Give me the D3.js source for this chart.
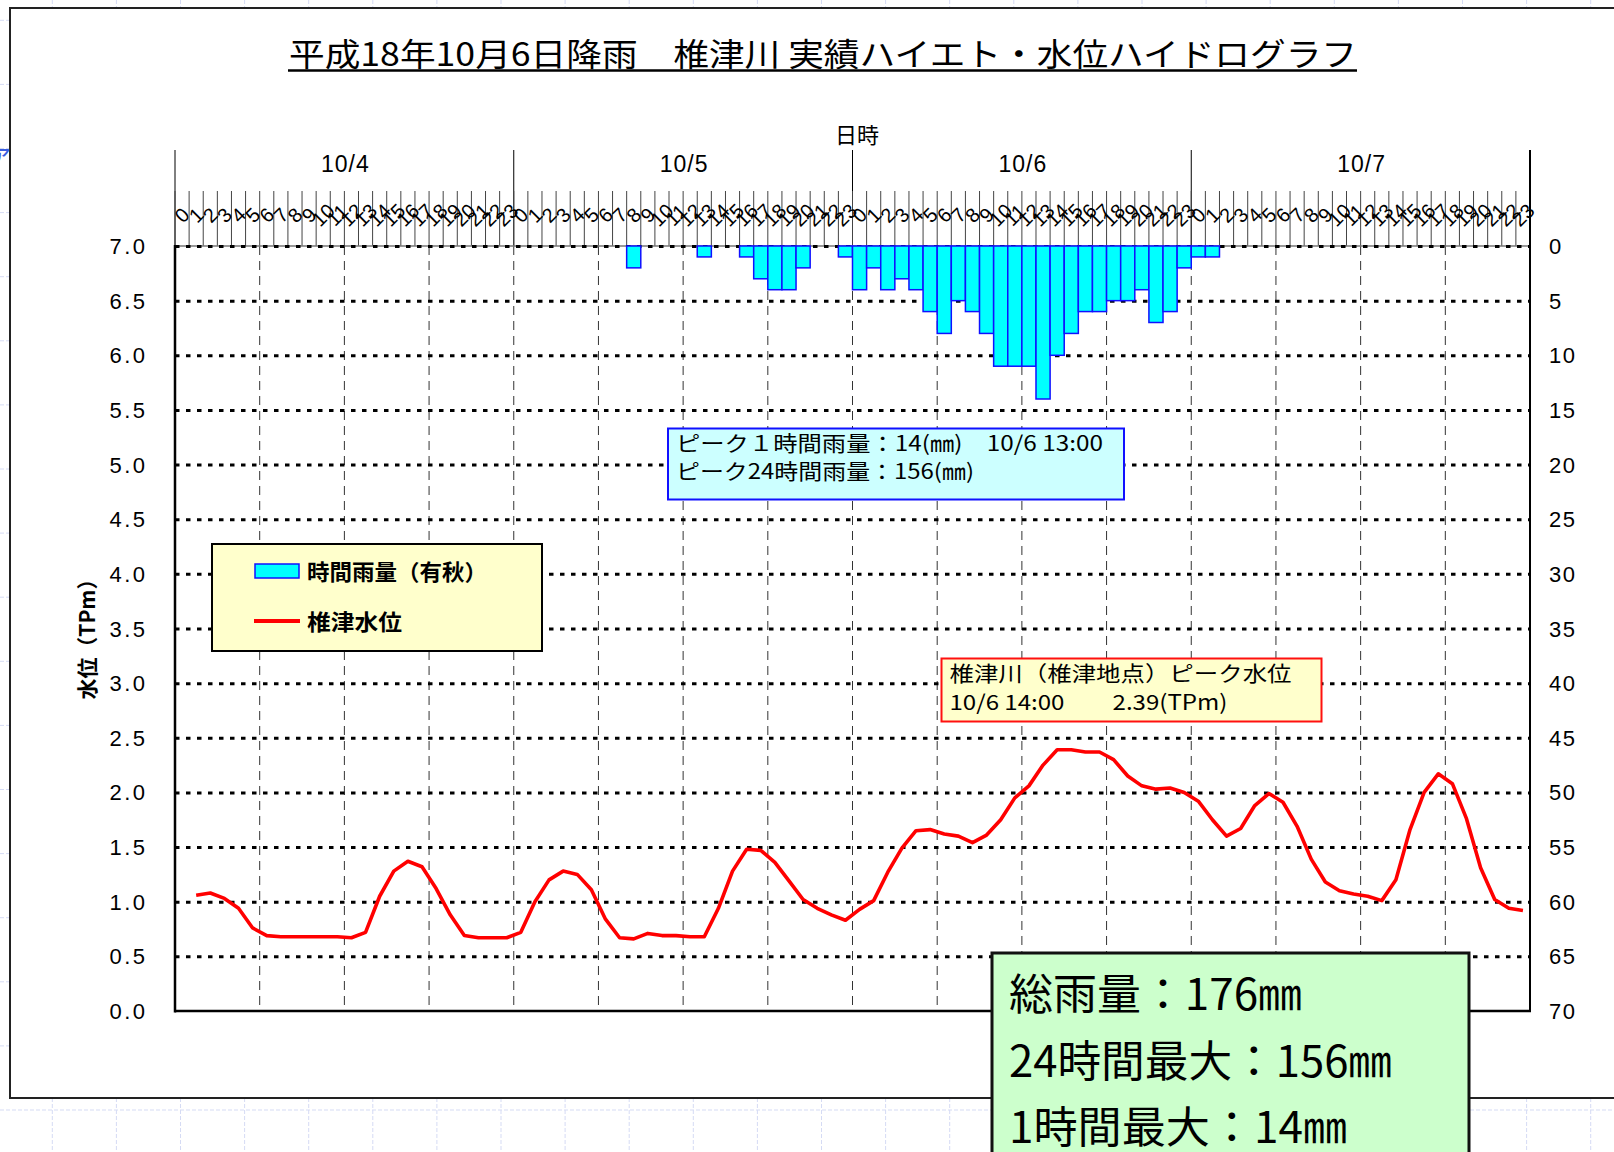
<!DOCTYPE html>
<html>
<head>
<meta charset="utf-8">
<script src="https://cdn.jsdelivr.net/npm/d3@7"></script>
<style>
  body { margin: 0; background: #fff; }
  svg { display: block; }
</style>
</head>
<body>
<svg id="chart" width="1614" height="1152"></svg>
<script>
// ---- data ----
const titleText = "平成18年10月6日降雨　椎津川 実績ハイエト・水位ハイドログラフ";
const days = ["10/4", "10/5", "10/6", "10/7"];
const hourLabels = ["0","1","2","3","4","5","6","7","8","9","10","11",
  "12","13","14","15","16","17","18","19","20","21","22","23"];

// hourly rainfall (mm), 有秋
const rain04 = [0,0,0,0,0,0,0,0,0,0,0,0,0,0,0,0,0,0,0,0,0,0,0,0];
const rain05 = [0,0,0,0,0,0,0,0,2,0,0,0,0,1,0,0,1,3,4,4,2,0,0,1];
const rain06 = [4,2,4,3,4,6,8,5,6,8,11,11,11,14,10,8,6,6,5,5,4,7,6,2];
const rain07 = [1,1,0,0,0,0,0,0,0,0,0,0,0,0,0,0,0,0,0,0,0,0,0,0];

// water level (TPm), 椎津
const level04 = [null,1.06,1.08,1.03,0.94,0.76,0.69,0.68,0.68,0.68,0.68,0.68,
  0.67,0.72,1.05,1.28,1.37,1.32,1.12,0.88,0.69,0.67,0.67,0.67];
const level05 = [0.72,1.00,1.20,1.28,1.25,1.11,0.84,0.67,0.66,0.71,0.69,0.69,
  0.68,0.68,0.94,1.28,1.48,1.47,1.36,1.19,1.02,0.94,0.88,0.83];
const level06 = [0.93,1.01,1.27,1.49,1.65,1.66,1.62,1.60,1.54,1.61,1.75,1.95,
  2.06,2.25,2.39,2.39,2.37,2.37,2.30,2.15,2.06,2.03,2.04,2.00];
const level07 = [1.92,1.75,1.60,1.67,1.88,1.99,1.91,1.69,1.39,1.18,1.10,1.07,
  1.05,1.01,1.20,1.66,2.00,2.17,2.08,1.76,1.31,1.02,0.94,0.92];

const levelTicks = [0,0.5,1,1.5,2,2.5,3,3.5,4,4.5,5,5.5,6,6.5,7];
const rainTicks = [0,5,10,15,20,25,30,35,40,45,50,55,60,65,70];

const legendLabels = ["時間雨量（有秋）", "椎津水位"];
const peakRainLines = ["ピーク１時間雨量：14(㎜)　10/6 13:00", "ピーク24時間雨量：156(㎜)"];
const peakLevelLines = ["椎津川（椎津地点）ピーク水位", "10/6 14:00　　2.39(TPm)"];
const summaryLines = ["総雨量：176㎜", "24時間最大：156㎜", "1時間最大：14㎜"];

// ---- setup ----
const svg = d3.select("#chart");
const jp = "'Noto Sans CJK JP', 'Noto Sans', sans-serif";
const num = "'Liberation Sans', Arial, sans-serif";

const plot = { left: 175, right: 1530, top: 246, bottom: 1011 };

const rain = rain04.concat(rain05, rain06, rain07);
const level = level04.concat(level05, level06, level07);
const slots = days.flatMap((d, di) => hourLabels.map((h, hi) => ({ day: d, hour: h, i: di * 24 + hi })));

const x = d3.scaleBand()
  .domain(slots.map(s => s.i))
  .range([plot.left, plot.right])
  .padding(0);
const bw = x.bandwidth();
const xDay = d3.scaleBand().domain(days).range([plot.left, plot.right]);
const yL = d3.scaleLinear().domain([0, 7]).range([plot.bottom, plot.top]);
const yR = d3.scaleLinear().domain([0, 70]).range([plot.top, plot.bottom]);

// faint sheet grid behind the chart object
let bg = svg.append("g")
  .attr("stroke", "#d5dbf4")
  .attr("stroke-width", 1)
  .attr("stroke-dasharray", "4,2");
d3.range(52.3, 1614, 64.1).forEach(gx => {
  bg.append("line").attr("x1", gx).attr("x2", gx).attr("y1", 0).attr("y2", 1152);
});
d3.range(1110, -10, -64.1).forEach(gy => {
  bg.append("line").attr("x1", 0).attr("x2", 1614).attr("y1", gy).attr("y2", gy);
});

// chart frame (right edge runs off the page)
svg.append("rect")
  .attr("x", 10).attr("y", 8)
  .attr("width", 1700).attr("height", 1090)
  .attr("fill", "#fff")
  .attr("stroke", "#222")
  .attr("stroke-width", 2);

// cut-off glyph at the left page edge
svg.append("text")
  .attr("x", -13).attr("y", 163)
  .attr("font-family", jp).attr("font-size", 26)
  .attr("fill", "#3a5ee0")
  .text("ァ");

// title
svg.append("text")
  .attr("x", 823).attr("y", 52)
  .attr("text-anchor", "middle")
  .attr("dominant-baseline", "central")
  .attr("font-family", jp).attr("font-size", 32)
  .attr("textLength", 1068).attr("lengthAdjust", "spacingAndGlyphs")
  .text(titleText);
svg.append("line")
  .attr("x1", 288).attr("x2", 1357)
  .attr("y1", 70.5).attr("y2", 70.5)
  .attr("stroke", "#000").attr("stroke-width", 2.5);

// ---- top category axis ----
svg.append("text")
  .attr("x", 857).attr("y", 133)
  .attr("text-anchor", "middle").attr("dominant-baseline", "central")
  .attr("font-family", jp).attr("font-size", 22)
  .text("日時");

let topAxis = svg.append("g");
topAxis.selectAll("line.day")
  .data(days.concat([null]))
  .enter().append("line")
  .attr("class", "day")
  .attr("x1", (d, k) => plot.left + k * xDay.bandwidth())
  .attr("x2", (d, k) => plot.left + k * xDay.bandwidth())
  .attr("y1", 150).attr("y2", plot.top)
  .attr("stroke", "#000").attr("stroke-width", 1);

topAxis.selectAll("text.day")
  .data(days)
  .enter().append("text")
  .attr("class", "day")
  .attr("x", d => xDay(d) + xDay.bandwidth() / 2 + 1)
  .attr("y", 164)
  .attr("text-anchor", "middle").attr("dominant-baseline", "central")
  .attr("font-family", num).attr("font-size", 23)
  .attr("letter-spacing", 1)
  .text(d => d);

topAxis.selectAll("line.hour")
  .data(slots)
  .enter().append("line")
  .attr("class", "hour")
  .attr("x1", d => x(d.i)).attr("x2", d => x(d.i))
  .attr("y1", 191).attr("y2", plot.top)
  .attr("stroke", "#444").attr("stroke-width", 1);

topAxis.selectAll("text.hour")
  .data(slots)
  .enter().append("text")
  .attr("class", "hour")
  .attr("transform", d => `translate(${x(d.i) + bw / 2},215) rotate(-45)`)
  .attr("text-anchor", "middle").attr("dominant-baseline", "central")
  .attr("font-family", num).attr("font-size", 20)
  .text(d => d.hour);

// ---- grid ----
let grid = svg.append("g");
grid.selectAll("line.v")
  .data(slots.filter(s => s.i > 0 && s.i % 6 === 0))
  .enter().append("line")
  .attr("class", "v")
  .attr("x1", d => x(d.i)).attr("x2", d => x(d.i))
  .attr("y1", plot.top).attr("y2", plot.bottom)
  .attr("stroke", "#333").attr("stroke-width", 1)
  .attr("stroke-dasharray", "9,6");

// top axis line under the dotted 7.0 gridline
svg.append("line")
  .attr("x1", plot.left).attr("x2", plot.right)
  .attr("y1", plot.top).attr("y2", plot.top)
  .attr("stroke", "#777").attr("stroke-width", 1.5);

svg.append("g")
  .attr("transform", `translate(${plot.left},0)`)
  .call(d3.axisLeft(yL).tickValues(levelTicks.filter(v => v > 0)).tickSize(-(plot.right - plot.left)).tickFormat(""))
  .call(g => g.select(".domain").remove())
  .call(g => g.selectAll(".tick line")
    .attr("stroke", "#000").attr("stroke-width", 3)
    .attr("stroke-dasharray", "4.5,6.5"));

// ---- rainfall bars ----
svg.append("g")
  .selectAll("rect")
  .data(slots.filter(s => rain[s.i] > 0))
  .enter().append("rect")
  .attr("x", d => x(d.i))
  .attr("y", yR(0))
  .attr("width", bw)
  .attr("height", d => yR(rain[d.i]) - yR(0))
  .attr("fill", "#00ffff")
  .attr("stroke", "#1010ff")
  .attr("stroke-width", 1.5);

// ---- water level line ----
const line = d3.line()
  .defined(d => level[d.i] != null)
  .x(d => x(d.i) + bw / 2)
  .y(d => yL(level[d.i]));
svg.append("path")
  .datum(slots)
  .attr("d", line)
  .attr("fill", "none")
  .attr("stroke", "#ff0000")
  .attr("stroke-width", 3.6)
  .attr("stroke-linejoin", "round");

// ---- axes ----
svg.append("line")
  .attr("x1", plot.left).attr("x2", plot.left)
  .attr("y1", plot.top - 1).attr("y2", plot.bottom + 1.5)
  .attr("stroke", "#000").attr("stroke-width", 2.5);
svg.append("line")
  .attr("x1", plot.left).attr("x2", plot.right + 1)
  .attr("y1", plot.bottom).attr("y2", plot.bottom)
  .attr("stroke", "#000").attr("stroke-width", 2.5);
svg.append("line")
  .attr("x1", plot.right).attr("x2", plot.right)
  .attr("y1", 150).attr("y2", plot.bottom + 1)
  .attr("stroke", "#000").attr("stroke-width", 2);

const tickLs = 2.5;
svg.append("g")
  .attr("transform", `translate(${plot.left},0)`)
  .call(d3.axisLeft(yL).tickValues(levelTicks).tickSize(0).tickPadding(30 - tickLs).tickFormat(d3.format(".1f")))
  .call(g => g.select(".domain").remove())
  .call(g => g.selectAll("text")
    .attr("font-family", num).attr("font-size", 22)
    .attr("letter-spacing", tickLs).attr("fill", "#000")
    .attr("dy", null).attr("dominant-baseline", "central"));

svg.append("g")
  .attr("transform", `translate(${plot.right},0)`)
  .call(d3.axisRight(yR).tickValues(rainTicks).tickSize(0).tickPadding(19))
  .call(g => g.select(".domain").remove())
  .call(g => g.selectAll("text")
    .attr("font-family", num).attr("font-size", 22)
    .attr("letter-spacing", 1.5).attr("fill", "#000")
    .attr("dy", null).attr("dominant-baseline", "central"));

svg.append("text")
  .attr("transform", "translate(86,634) rotate(-90)")
  .attr("text-anchor", "middle").attr("dominant-baseline", "central")
  .attr("font-family", jp).attr("font-size", 21).attr("font-weight", "bold")
  .attr("textLength", 131).attr("lengthAdjust", "spacingAndGlyphs")
  .text("水位（TPm）");

// ---- legend ----
let legend = svg.append("g");
legend.append("rect")
  .attr("x", 212).attr("y", 544).attr("width", 330).attr("height", 107)
  .attr("fill", "#ffffcc").attr("stroke", "#000").attr("stroke-width", 2);
legend.append("rect")
  .attr("x", 255).attr("y", 564).attr("width", 44).attr("height", 14)
  .attr("fill", "#00ffff").attr("stroke", "#1010ff").attr("stroke-width", 1.5);
legend.append("line")
  .attr("x1", 254).attr("x2", 300).attr("y1", 621).attr("y2", 621)
  .attr("stroke", "#ff0000").attr("stroke-width", 4);
legend.selectAll("text")
  .data(legendLabels)
  .enter().append("text")
  .attr("x", 307).attr("y", (d, k) => k === 0 ? 570 : 620)
  .attr("dominant-baseline", "central")
  .attr("font-family", jp).attr("font-size", 22).attr("font-weight", "bold")
  .attr("textLength", (d, k) => k === 0 ? 180 : 95)
  .attr("lengthAdjust", "spacingAndGlyphs")
  .text(d => d);

// ---- annotation boxes ----
function noteBox(box, lines, rows, widths, fill, stroke, size) {
  let g = svg.append("g");
  g.append("rect")
    .attr("x", box[0]).attr("y", box[1]).attr("width", box[2]).attr("height", box[3])
    .attr("fill", fill).attr("stroke", stroke).attr("stroke-width", 2);
  g.selectAll("text")
    .data(lines)
    .enter().append("text")
    .attr("x", box[0] + 8)
    .attr("y", (d, k) => rows[k])
    .attr("dominant-baseline", "central")
    .attr("font-family", jp).attr("font-size", size)
    .attr("textLength", (d, k) => widths[k])
    .attr("lengthAdjust", "spacingAndGlyphs")
    .text(d => d);
  return g;
}

noteBox([668, 428.5, 456, 71], peakRainLines, [442, 470], [427, 298], "#ccffff", "#1010ff", 21);
noteBox([941.5, 658.5, 380, 63], peakLevelLines, [672, 701], [342, 278], "#ffffcc", "#ff1010", 21);

let sb = noteBox([992, 953, 477, 230], summaryLines, [991, 1058, 1124], [293, 383, 338], "#ccffcc", "#111", 43);
sb.select("rect").attr("stroke-width", 3);
sb.selectAll("text").attr("x", 1009);
</script>
</body>
</html>
